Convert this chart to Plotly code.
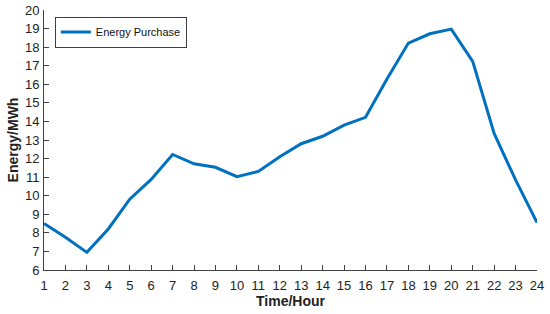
import plotly.graph_objects as go

hours = list(range(1, 25))
energy_purchase = [8.5, 7.76, 6.95, 8.21, 9.81, 10.88, 12.22, 11.72, 11.53, 11.03, 11.31, 12.1,
                   12.8, 13.2, 13.8, 14.22, 16.28, 18.22, 18.72, 18.97, 17.23, 13.35, 10.85, 8.55]

font_family = "Liberation Sans, Arial"

fig = go.Figure()
fig.add_trace(go.Scatter(
    x=hours, y=energy_purchase, mode="lines", name="Energy Purchase",
    line=dict(color="#0070C0", width=3),
))

axis_style = dict(
    showline=True, linecolor="#404040", linewidth=1,
    ticks="inside", ticklen=5, tickcolor="#404040",
    showgrid=False, zeroline=False, mirror=False, automargin=False,
    tickfont=dict(family=font_family, size=13, color="#222"),
)

fig.update_xaxes(range=[1, 24], tickvals=hours, ticklabelstandoff=3, **axis_style,
                 title=dict(text="<b>Time/Hour</b>", standoff=4,
                            font=dict(family=font_family, size=14, color="#222")))
fig.update_yaxes(range=[6, 20], dtick=1, ticklabelstandoff=1, **axis_style,
                 title=dict(text="<b>Energy/MWh</b>", standoff=3,
                            font=dict(family=font_family, size=14, color="#222")))

fig.update_layout(
    width=550, height=314,
    margin=dict(l=44, r=13, t=10, b=44),
    paper_bgcolor="white", plot_bgcolor="white",
    showlegend=True,
    legend=dict(x=0.022, y=0.975, xanchor="left", yanchor="top",
                bgcolor="white", bordercolor="#404040", borderwidth=1,
                font=dict(family=font_family, size=11, color="#111"),
                itemwidth=30, tracegroupgap=0),
)

# drop the page's default body margin so the figure sits at the window's corner
fig.write_html("out.html", config={"displayModeBar": False},
               post_script="document.body.style.margin='0';")
